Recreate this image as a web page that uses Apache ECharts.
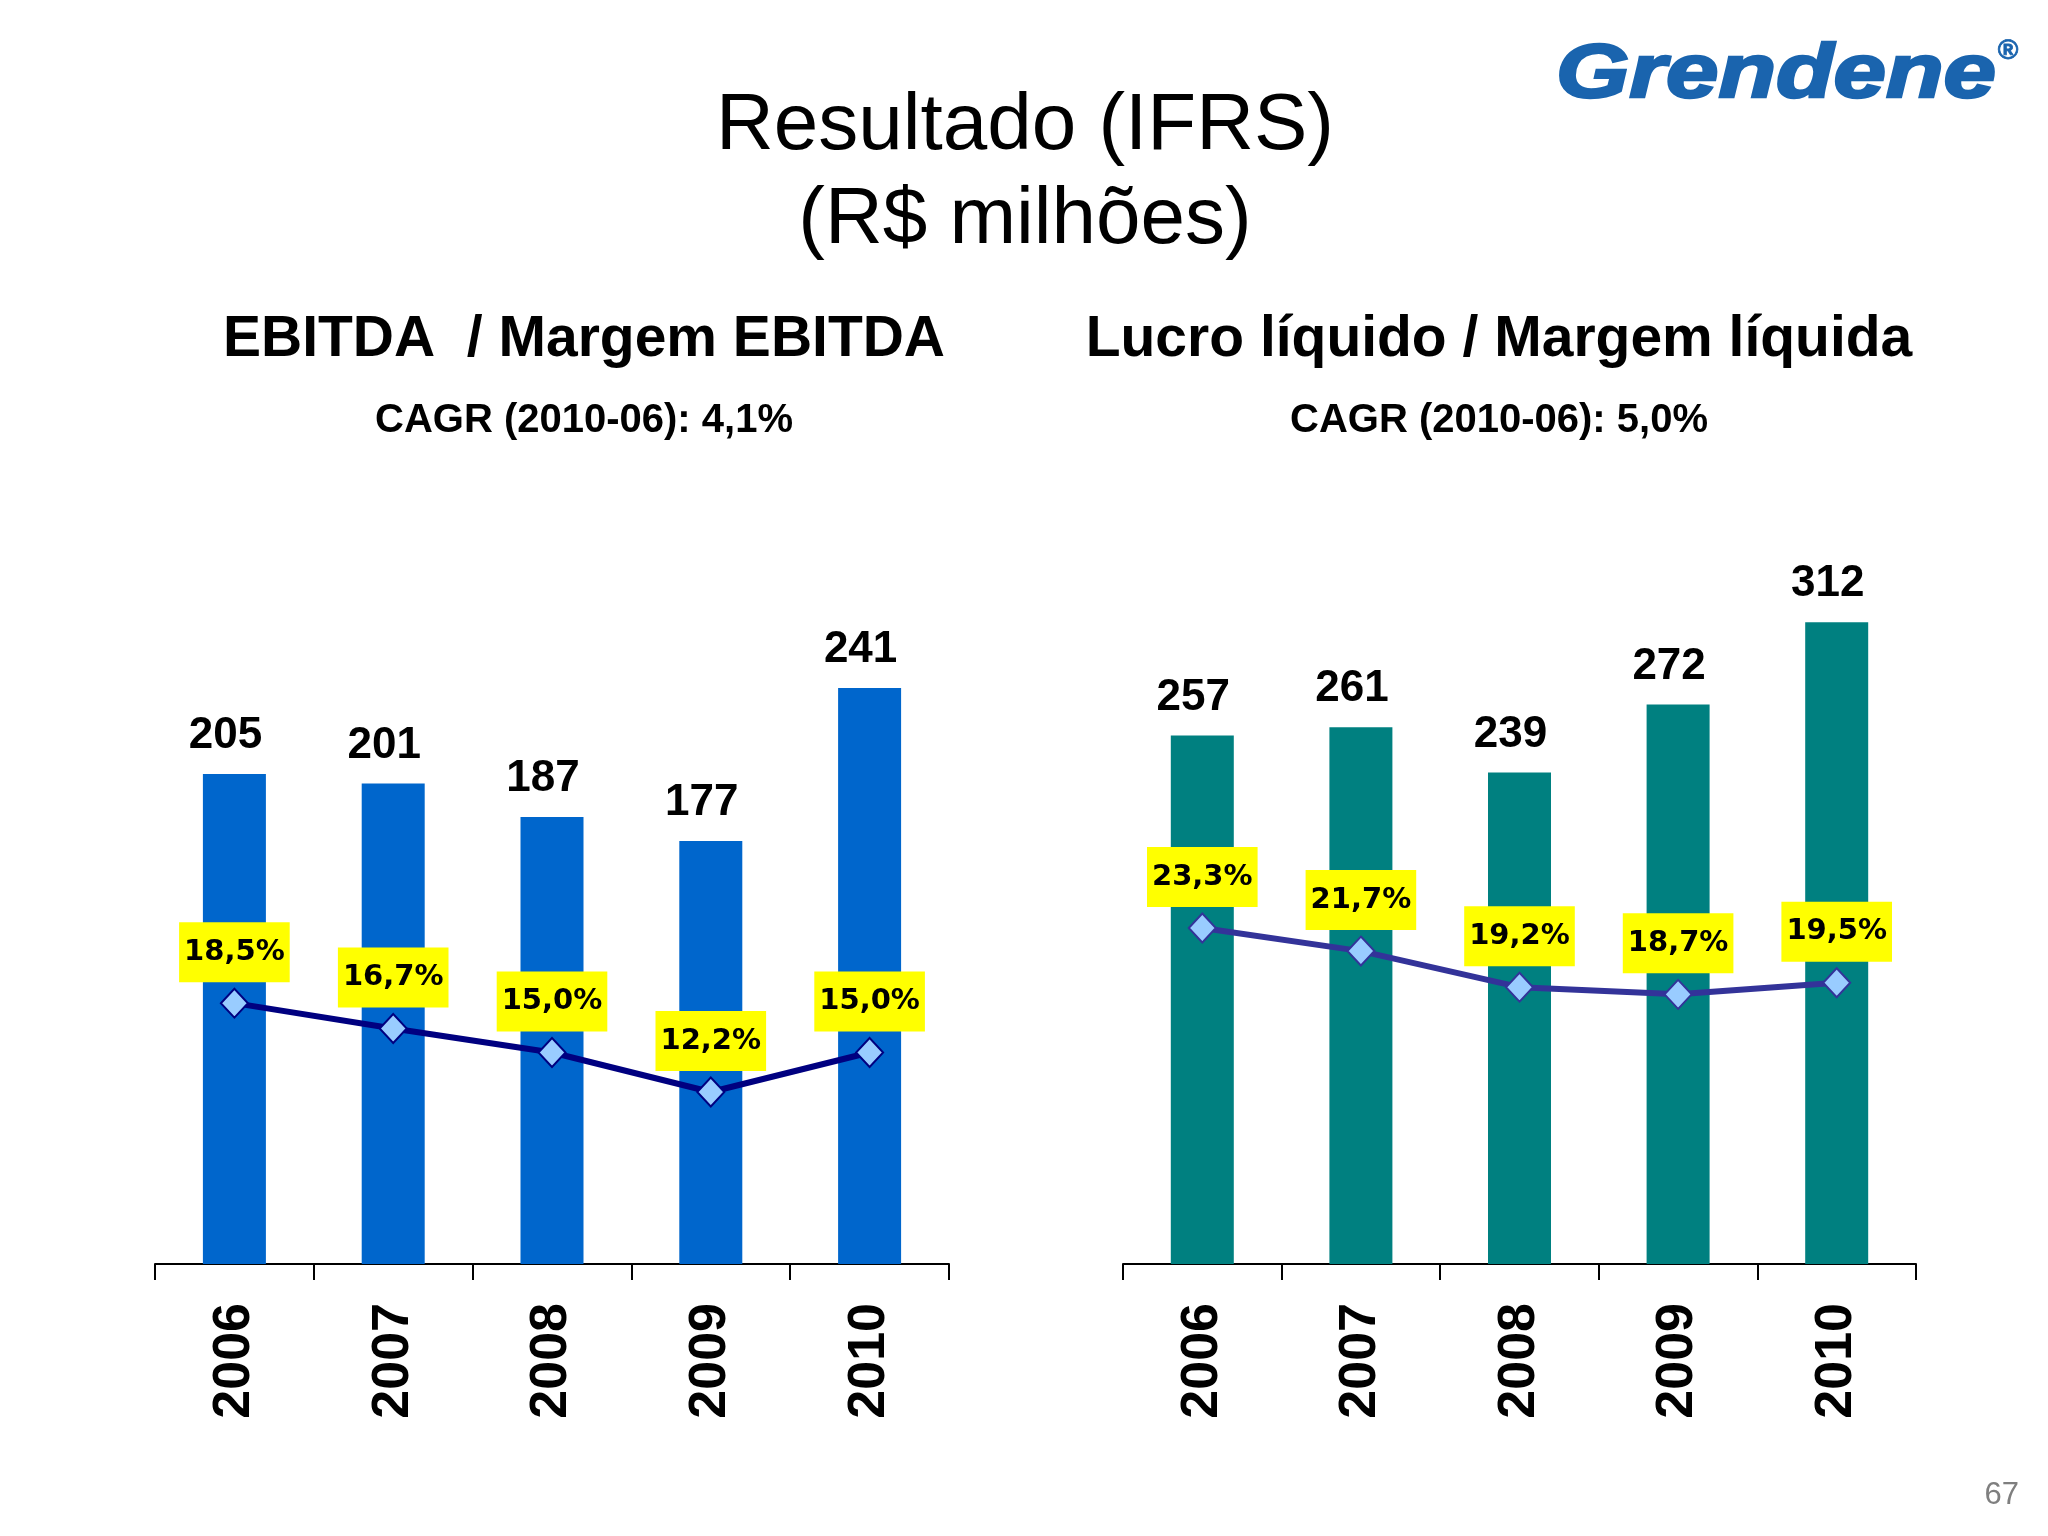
<!DOCTYPE html>
<html>
<head>
<meta charset="utf-8">
<script src="https://cdn.jsdelivr.net/npm/echarts@6/dist/echarts.min.js"></script>
<style>
html,body{margin:0;padding:0;background:#fff;}
#c{width:2048px;height:1536px;}
</style>
</head>
<body>
<div id="c"></div>
<script>
const years = ['2006', '2007', '2008', '2009', '2010'];
const ebitda = [205, 201, 187, 177, 241];
const ebitdaMargin = [18.5, 16.7, 15.0, 12.2, 15.0];
const lucro = [257, 261, 239, 272, 312];
const lucroMargin = [23.3, 21.7, 19.2, 18.7, 19.5];

const pct = p => p.value.toFixed(1).replace('.', ',') + '%';
const chart = echarts.init(document.getElementById('c'));

const xAxisBase = (gi) => ({
  type: 'category', gridIndex: gi, data: years, boundaryGap: true,
  axisLine: { lineStyle: { color: '#000', width: 2 } },
  axisTick: { show: true, length: 16, lineStyle: { color: '#000', width: 2 } },
  axisLabel: { rotate: 90, margin: 39, color: '#000', fontSize: 52, fontWeight: 'bold',
    fontFamily: '"Liberation Sans", Arial, sans-serif' }
});
const yHidden = (gi, max) => ({
  type: 'value', gridIndex: gi, min: 0, max: max,
  show: false, splitLine: { show: false }
});
const barLabel = {
  show: true, position: 'top', distance: 16, offset: [-9, 0],
  color: '#000', fontSize: 44, fontWeight: 'bold',
  fontFamily: '"Liberation Sans", Arial, sans-serif'
};
const pctLabel = {
  show: true, position: 'inside', offset: [0, -51], formatter: pct,
  backgroundColor: '#FFFF00', padding: [15, 5, 13, 5],
  color: '#000', fontSize: 29, fontWeight: 'bold', lineHeight: 32,
  fontFamily: '"DejaVu Sans", Verdana, sans-serif'
};

chart.setOption({
  animation: false,
  backgroundColor: '#fff',
  grid: [
    { left: 155, width: 794, top: 308, height: 956 },
    { left: 1123, width: 793, top: 308, height: 956 }
  ],
  xAxis: [xAxisBase(0), xAxisBase(1)],
  yAxis: [yHidden(0, 400), yHidden(0, 67.8), yHidden(1, 464.8), yHidden(1, 66.3)],
  series: [
    { type: 'bar', xAxisIndex: 0, yAxisIndex: 0, data: ebitda, barWidth: 63,
      itemStyle: { color: '#0066CC' }, label: barLabel, z: 2 },
    { type: 'line', xAxisIndex: 0, yAxisIndex: 1, data: ebitdaMargin,
      lineStyle: { color: '#000080', width: 6 }, symbol: 'diamond', symbolSize: [27, 29],
      itemStyle: { color: '#99CCFF', borderColor: '#000080', borderWidth: 2 },
      label: pctLabel, z: 5 },
    { type: 'bar', xAxisIndex: 1, yAxisIndex: 2, data: lucro, barWidth: 63,
      itemStyle: { color: '#008080' }, label: barLabel, z: 2 },
    { type: 'line', xAxisIndex: 1, yAxisIndex: 3, data: lucroMargin,
      lineStyle: { color: '#333399', width: 6 }, symbol: 'diamond', symbolSize: [27, 29],
      itemStyle: { color: '#99CCFF', borderColor: '#333399', borderWidth: 2 },
      label: pctLabel, z: 5 }
  ],
  graphic: [
    { type: 'text', x: 1025, y: 127, style: { text: 'Resultado (IFRS)', fill: '#000',
      font: '80px "Liberation Sans", Arial, sans-serif', textAlign: 'center', textVerticalAlign: 'middle' } },
    { type: 'text', x: 1025, y: 221, style: { text: '(R$ milhões)', fill: '#000',
      font: '80px "Liberation Sans", Arial, sans-serif', textAlign: 'center', textVerticalAlign: 'middle' } },
    { type: 'text', x: 584, y: 340, style: { text: 'EBITDA  / Margem EBITDA', fill: '#000',
      font: 'bold 57px "Liberation Sans", Arial, sans-serif', textAlign: 'center', textVerticalAlign: 'middle' } },
    { type: 'text', x: 1499, y: 340, style: { text: 'Lucro líquido / Margem líquida', fill: '#000',
      font: 'bold 57px "Liberation Sans", Arial, sans-serif', textAlign: 'center', textVerticalAlign: 'middle' } },
    { type: 'text', x: 584, y: 421, style: { text: 'CAGR (2010-06): 4,1%', fill: '#000',
      font: 'bold 40px "Liberation Sans", Arial, sans-serif', textAlign: 'center', textVerticalAlign: 'middle' } },
    { type: 'text', x: 1499, y: 421, style: { text: 'CAGR (2010-06): 5,0%', fill: '#000',
      font: 'bold 40px "Liberation Sans", Arial, sans-serif', textAlign: 'center', textVerticalAlign: 'middle' } },
    { type: 'text', x: 1556, y: 76, scaleX: 1.24, style: { text: 'Grendene', fill: '#1A64AE',
      stroke: '#1A64AE', lineWidth: 2.5,
      font: 'italic bold 76px "Liberation Sans", Arial, sans-serif', textAlign: 'left', textVerticalAlign: 'middle' } },
    { type: 'text', x: 2008, y: 51, style: { text: '®', fill: '#1A64AE',
      stroke: '#1A64AE', lineWidth: 0.8,
      font: 'bold 28px "Liberation Sans", Arial, sans-serif', textAlign: 'center', textVerticalAlign: 'middle' } },
    { type: 'text', x: 2019, y: 1495, style: { text: '67', fill: '#7F7F7F',
      font: '31px "Liberation Sans", Arial, sans-serif', textAlign: 'right', textVerticalAlign: 'middle' } }
  ]
});
</script>
</body>
</html>
